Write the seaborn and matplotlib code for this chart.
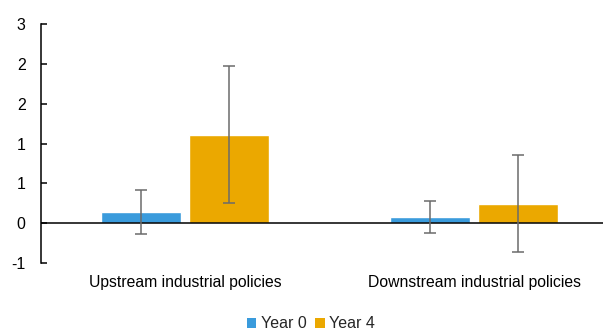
import matplotlib
matplotlib.use("Agg")
import matplotlib.pyplot as plt
from matplotlib.patches import Patch
import seaborn as sns
import pandas as pd
import numpy as np

# Estimates and 90% confidence half-widths by policy type and horizon
categories = ["Upstream industrial policies", "Downstream industrial policies"]
periods = ["Year 0", "Year 4"]
year0_values = [0.14, 0.075]
year4_values = [1.11, 0.245]
year0_errors = [0.28, 0.20]
year4_errors = [0.86, 0.61]
y_ticks = [-0.5, 0.0, 0.5, 1.0, 1.5, 2.0, 2.5]
y_tick_labels = ["-1", "0", "1", "1", "2", "2", "3"]
colors = {"Year 0": "#3A9BDC", "Year 4": "#EBA800"}

df = pd.DataFrame({
    "Category": categories * 2,
    "Period": [periods[0]] * 2 + [periods[1]] * 2,
    "Value": year0_values + year4_values,
})
errors = {"Year 0": year0_errors, "Year 4": year4_errors}

sns.set_style("white")
plt.rcParams["font.family"] = ["Liberation Sans", "DejaVu Sans"]

fig = plt.figure(figsize=(6.03, 3.31), dpi=100)
W, H = 603, 331
left, right, top, bottom = 41, 618.5, 24, 263
ax = fig.add_axes([left / W, 1 - bottom / H, (right - left) / W, (bottom - top) / H])

sns.barplot(data=df, x="Category", y="Value", hue="Period", order=categories,
            hue_order=periods, palette=colors, width=0.61, gap=0.09,
            saturation=1, errorbar=None, legend=False, ax=ax)

for container, period in zip(ax.containers, periods):
    xs = [b.get_x() + b.get_width() / 2 for b in container]
    ys = [b.get_height() for b in container]
    ax.errorbar(xs, ys, yerr=errors[period], fmt="none", ecolor="#6b6b6b",
                elinewidth=1.1, capsize=4, capthick=1.1, zorder=5)

ax.axhline(0, color="black", linewidth=1.1, zorder=4)
ax.set_xlim(-0.5, 1.5)
ax.set_ylim(-0.5, 2.5)
ax.set_yticks(y_ticks)
ax.set_yticklabels(y_tick_labels)
ax.set_xlabel("")
ax.set_ylabel("")

for s in ["top", "right", "bottom"]:
    ax.spines[s].set_visible(False)
ax.spines["left"].set_color("black")
ax.spines["left"].set_linewidth(1.1)

ax.tick_params(axis="y", left=True, direction="in", length=4, width=1.1, pad=11,
               labelsize=11.5, colors="black")
ax.tick_params(axis="x", bottom=False, length=0, pad=8.5, labelsize=11.3,
               colors="black")

handles = [Patch(facecolor=colors[p], edgecolor="none", label=p) for p in periods]
fig.legend(handles=handles, loc="center", bbox_to_anchor=(311 / W, 1 - 324 / H),
           ncol=2, frameon=False, fontsize=11.5, handlelength=0.6,
           handleheight=0.6, handletextpad=0.3, columnspacing=0.5,
           borderpad=0, borderaxespad=0)

fig.savefig("out.png", dpi=100)
